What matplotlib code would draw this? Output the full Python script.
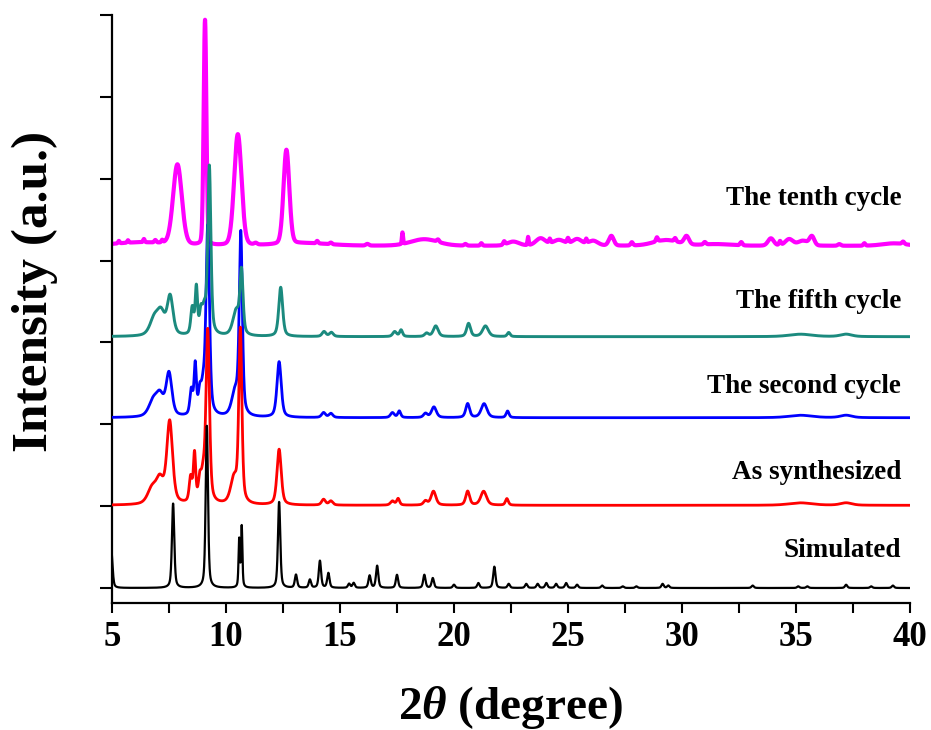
import numpy as np
import matplotlib
matplotlib.use('Agg')
import matplotlib.pyplot as plt
from matplotlib.ticker import MultipleLocator, NullFormatter

plt.rcParams['font.family'] = ['Liberation Serif', 'DejaVu Serif']
plt.rcParams['font.weight'] = 'bold'
plt.rcParams['mathtext.fontset'] = 'custom'
plt.rcParams['mathtext.rm'] = 'Liberation Serif:bold'
plt.rcParams['mathtext.it'] = 'Liberation Serif:italic:bold'
plt.rcParams['mathtext.bf'] = 'Liberation Serif:bold'

# ---------------- data (peak lists) ----------------
series_names = ["Simulated", "As synthesized", "The second cycle",
                "The fifth cycle", "The tenth cycle"]
series_colors = ["#000000", "#FF0000", "#0000FF", "#1B8A7E", "#FF00FF"]
series_offsets = [0.0, 1.01, 2.08, 3.07, 4.18]
label_y = [0.38, 1.33, 2.38, 3.42, 4.68]

sim_pos = [4.98, 7.68, 9.16, 10.58, 10.69, 12.33, 13.07, 13.68, 14.12, 14.49,
           15.4, 15.6, 16.3, 16.63, 17.5, 18.7, 19.07, 20.0, 21.07, 21.77,
           22.4, 23.17, 23.67, 24.05, 24.48, 24.92, 25.4, 26.5, 27.4, 28.0,
           29.15, 29.4, 33.1, 35.1, 35.5, 37.2, 38.3, 39.25]
sim_h = [0.42, 1.03, 1.98, 0.58, 0.74, 1.05, 0.16, 0.10, 0.33, 0.18,
         0.05, 0.06, 0.15, 0.27, 0.16, 0.16, 0.12, 0.04, 0.06, 0.26,
         0.05, 0.05, 0.05, 0.06, 0.05, 0.06, 0.04, 0.03, 0.02, 0.02,
         0.05, 0.03, 0.03, 0.02, 0.02, 0.04, 0.02, 0.03]
sim_w = [0.12, 0.12, 0.12, 0.07, 0.07] + [0.12] * (len(sim_pos) - 5)

red_pos = [6.75, 7.1, 7.53, 8.45, 8.62, 8.85, 9.0, 9.2, 10.35, 10.63, 12.33,
           14.28, 14.6, 17.3, 17.55, 18.75, 19.1, 20.6, 21.3, 22.32, 35.2, 37.2]
red_h = [0.18, 0.28, 1.0, 0.3, 0.58, 0.24, 0.3, 2.1, 0.3, 2.1, 0.68,
         0.07, 0.05, 0.05, 0.08, 0.05, 0.17, 0.17, 0.17, 0.08, 0.03, 0.03]
red_w = [0.45, 0.4, 0.3, 0.15, 0.12, 0.15, 0.2, 0.18, 0.35, 0.16, 0.22,
         0.2, 0.2, 0.2, 0.15, 0.2, 0.25, 0.2, 0.3, 0.15, 1.2, 0.6]

blue_pos = [6.8, 7.1, 7.5, 8.48, 8.65, 8.85, 9.0, 9.2, 10.4, 10.65, 12.33,
            14.28, 14.6, 17.3, 17.6, 18.75, 19.12, 20.6, 21.32, 22.35, 35.2, 37.2]
blue_h = [0.18, 0.24, 0.52, 0.3, 0.6, 0.24, 0.3, 2.3, 0.28, 2.2, 0.68,
          0.06, 0.05, 0.06, 0.08, 0.05, 0.13, 0.17, 0.17, 0.08, 0.03, 0.03]
blue_w = [0.45, 0.4, 0.3, 0.15, 0.12, 0.15, 0.2, 0.18, 0.35, 0.16, 0.22,
          0.2, 0.2, 0.2, 0.15, 0.2, 0.25, 0.2, 0.3, 0.15, 1.2, 0.6]

teal_pos = [6.85, 7.15, 7.55, 8.52, 8.7, 8.9, 9.05, 9.27, 10.45, 10.68, 12.4,
            14.3, 14.62, 17.4, 17.68, 18.8, 19.2, 20.64, 21.38, 22.4, 35.2, 37.2]
teal_h = [0.2, 0.26, 0.47, 0.32, 0.56, 0.24, 0.28, 2.05, 0.3, 0.74, 0.6,
          0.06, 0.05, 0.06, 0.08, 0.04, 0.13, 0.16, 0.13, 0.05, 0.03, 0.03]
teal_w = [0.45, 0.4, 0.3, 0.15, 0.12, 0.15, 0.2, 0.16, 0.35, 0.16, 0.2,
          0.2, 0.2, 0.2, 0.15, 0.2, 0.25, 0.2, 0.3, 0.15, 1.2, 0.6]

mag_pos = [7.87, 9.08, 10.52, 12.65,
           6.2, 13.5, 17.74, 18.7, 22.6, 23.25, 23.8, 24.6, 25.4, 26.1, 26.9,
           29.3, 30.2, 31.5, 33.9, 34.7, 35.3, 35.7, 39.3,
           5.3, 5.7, 6.4, 6.9, 7.2, 11.3, 14.0, 14.6, 16.2, 19.3, 20.5, 21.2,
           22.2, 24.2, 25.0, 25.8, 27.8, 28.9, 29.7, 31.0, 32.6, 34.3, 36.9,
           38.0, 39.7]
mag_h = [0.98, 2.75, 1.36, 1.15,
         0.04, 0.03, 0.14, 0.08, 0.05, 0.1, 0.09, 0.07, 0.08, 0.06, 0.12,
         0.07, 0.1, 0.02, 0.09, 0.08, 0.06, 0.11, 0.03,
         0.03, 0.03, 0.04, 0.03, 0.03, 0.02, 0.03, 0.02, 0.02, 0.03, 0.02, 0.03,
         0.04, 0.05, 0.06, 0.05, 0.04, 0.05, 0.04, 0.03, 0.04, 0.05, 0.02,
         0.03, 0.03]
mag_w = [0.45, 0.14, 0.38, 0.3,
         2.6, 2.5, 0.06, 1.4, 0.6, 0.06, 0.5, 0.6, 0.5, 0.5, 0.25,
         1.3, 0.25, 1.5, 0.3, 0.4, 0.5, 0.25, 1.2,
         0.08, 0.08, 0.08, 0.1, 0.08, 0.15, 0.1, 0.12, 0.15, 0.12, 0.12, 0.1,
         0.1, 0.08, 0.1, 0.08, 0.12, 0.1, 0.1, 0.12, 0.12, 0.1, 0.15,
         0.1, 0.12]

x_ticks = [5, 10, 15, 20, 25, 30, 35, 40]
x_label = r"2$\mathit{\theta}$ (degree)"
y_label = "Intensity (a.u.)"


def profile(x, pos, h, w, eta):
    y = np.zeros_like(x)
    for c, a, f in zip(pos, h, w):
        d = (x - c) / f
        lor = 1.0 / (1.0 + 4.0 * d * d)
        gau = np.exp(-4.0 * np.log(2.0) * d * d)
        y += a * (eta * lor + (1 - eta) * gau)
    return y


x = np.linspace(5, 40, 7001)
curves = [
    profile(x, sim_pos, sim_h, sim_w, 0.5),
    profile(x, red_pos, red_h, red_w, 0.5),
    profile(x, blue_pos, blue_h, blue_w, 0.5),
    profile(x, teal_pos, teal_h, teal_w, 0.5),
    profile(x, mag_pos, mag_h, mag_w, 0.15),
]
line_widths = [1.6, 2.0, 2.0, 2.1, 3.0]
z_orders = [6, 5, 3, 4, 2]

fig = plt.figure(figsize=(9.31, 7.30), dpi=100)
ax = fig.add_axes([0.1203, 0.1740, 0.8571, 0.8055])

for i in range(5):
    ax.plot(x, curves[i] + series_offsets[i], color=series_colors[i],
            lw=line_widths[i], zorder=z_orders[i])

for name, yy in zip(series_names, label_y):
    ax.text(39.62, yy, name, ha='right', va='baseline', fontsize=19.5,
            fontweight='bold')

ax.set_xlim(5, 40)
ax.set_ylim(-0.183, 7.0)
ax.set_xticks(x_ticks)
ax.xaxis.set_minor_locator(MultipleLocator(2.5))
ax.set_yticks(range(0, 8))
ax.yaxis.set_major_formatter(NullFormatter())
for s in ['top', 'right']:
    ax.spines[s].set_visible(False)
for s in ['left', 'bottom']:
    ax.spines[s].set_linewidth(1.6)
ax.tick_params(axis='x', which='both', direction='out', length=7, width=1.5,
               labelsize=25, pad=6)
ax.tick_params(axis='y', which='major', direction='out', length=9, width=1.5)
for lbl in ax.get_xticklabels():
    lbl.set_fontweight('bold')

ax.set_xlabel(x_label, fontsize=34, fontweight='bold')
ax.xaxis.set_label_coords(0.5, -0.177)
ax.xaxis.label.set_va('center')
ax.set_ylabel(y_label, fontsize=37, fontweight='bold')
ax.yaxis.set_label_coords(-0.0965, 0.529)
ax.yaxis.label.set_va('center')

fig.savefig('out.png', dpi=100)
